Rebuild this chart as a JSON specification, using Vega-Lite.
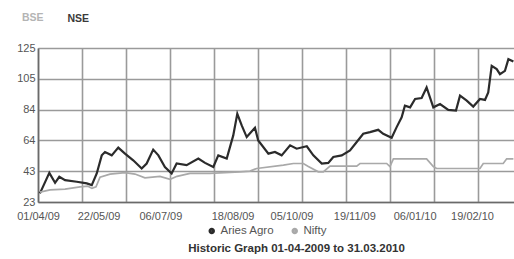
{
  "$schema": "https://vega.github.io/schema/vega-lite/v6.json",
  "width": 480,
  "height": 154,
  "autosize": {"type": "none"},
  "padding": {"left": 38, "top": 48, "right": 0, "bottom": 57},
  "background": "white",
  "config": {"view": {"stroke": null}, "font": "Liberation Sans"},
  "title": {
    "text": "BSE",
    "anchor": "start",
    "orient": "top",
    "frame": "group",
    "dx": -16,
    "offset": -19,
    "baseline": "bottom",
    "fontSize": 10.5,
    "fontWeight": "bold",
    "color": "#b4b4b4",
    "font": "Liberation Sans"
  },
  "datasets": {
    "series": [
      {"series": "Aries Agro", "t": 1.0, "v": 28.7},
      {"series": "Aries Agro", "t": 5.9, "v": 42.3},
      {"series": "Aries Agro", "t": 8.9, "v": 35.7},
      {"series": "Aries Agro", "t": 11.1, "v": 39.7},
      {"series": "Aries Agro", "t": 14.1, "v": 37.5},
      {"series": "Aries Agro", "t": 20.2, "v": 36.4},
      {"series": "Aries Agro", "t": 25.4, "v": 35.3},
      {"series": "Aries Agro", "t": 28.0, "v": 34.2},
      {"series": "Aries Agro", "t": 30.6, "v": 41.9},
      {"series": "Aries Agro", "t": 33.2, "v": 53.9},
      {"series": "Aries Agro", "t": 34.9, "v": 56.1},
      {"series": "Aries Agro", "t": 38.4, "v": 53.9},
      {"series": "Aries Agro", "t": 41.8, "v": 59.0},
      {"series": "Aries Agro", "t": 45.3, "v": 55.0},
      {"series": "Aries Agro", "t": 49.6, "v": 50.6},
      {"series": "Aries Agro", "t": 54.0, "v": 45.2},
      {"series": "Aries Agro", "t": 56.6, "v": 48.5},
      {"series": "Aries Agro", "t": 60.0, "v": 57.7},
      {"series": "Aries Agro", "t": 62.7, "v": 53.9},
      {"series": "Aries Agro", "t": 66.1, "v": 46.2},
      {"series": "Aries Agro", "t": 69.6, "v": 41.9},
      {"series": "Aries Agro", "t": 72.2, "v": 48.5},
      {"series": "Aries Agro", "t": 77.4, "v": 47.4},
      {"series": "Aries Agro", "t": 83.5, "v": 51.8},
      {"series": "Aries Agro", "t": 87.0, "v": 48.9},
      {"series": "Aries Agro", "t": 91.3, "v": 46.2},
      {"series": "Aries Agro", "t": 93.9, "v": 53.9},
      {"series": "Aries Agro", "t": 98.3, "v": 51.8},
      {"series": "Aries Agro", "t": 101.7, "v": 67.1},
      {"series": "Aries Agro", "t": 103.8, "v": 81.4},
      {"series": "Aries Agro", "t": 106.1, "v": 73.7},
      {"series": "Aries Agro", "t": 108.7, "v": 66.0},
      {"series": "Aries Agro", "t": 113.0, "v": 72.2},
      {"series": "Aries Agro", "t": 114.7, "v": 63.8},
      {"series": "Aries Agro", "t": 120.0, "v": 55.0},
      {"series": "Aries Agro", "t": 123.4, "v": 56.1},
      {"series": "Aries Agro", "t": 126.9, "v": 53.9},
      {"series": "Aries Agro", "t": 131.3, "v": 60.5},
      {"series": "Aries Agro", "t": 134.7, "v": 58.3},
      {"series": "Aries Agro", "t": 140.0, "v": 59.9},
      {"series": "Aries Agro", "t": 143.4, "v": 53.9},
      {"series": "Aries Agro", "t": 147.8, "v": 48.5},
      {"series": "Aries Agro", "t": 151.2, "v": 48.9},
      {"series": "Aries Agro", "t": 153.8, "v": 52.8},
      {"series": "Aries Agro", "t": 158.2, "v": 53.9},
      {"series": "Aries Agro", "t": 162.5, "v": 57.2},
      {"series": "Aries Agro", "t": 166.0, "v": 62.7},
      {"series": "Aries Agro", "t": 169.4, "v": 68.2},
      {"series": "Aries Agro", "t": 172.9, "v": 69.3},
      {"series": "Aries Agro", "t": 177.2, "v": 70.8},
      {"series": "Aries Agro", "t": 179.8, "v": 68.2},
      {"series": "Aries Agro", "t": 184.2, "v": 65.6},
      {"series": "Aries Agro", "t": 186.8, "v": 72.6},
      {"series": "Aries Agro", "t": 189.4, "v": 79.1},
      {"series": "Aries Agro", "t": 191.1, "v": 86.8},
      {"series": "Aries Agro", "t": 193.8, "v": 85.7},
      {"series": "Aries Agro", "t": 196.4, "v": 91.2},
      {"series": "Aries Agro", "t": 199.8, "v": 91.9},
      {"series": "Aries Agro", "t": 202.4, "v": 98.9},
      {"series": "Aries Agro", "t": 205.9, "v": 85.7},
      {"series": "Aries Agro", "t": 209.4, "v": 87.9},
      {"series": "Aries Agro", "t": 213.7, "v": 84.0},
      {"series": "Aries Agro", "t": 217.7, "v": 83.5},
      {"series": "Aries Agro", "t": 219.8, "v": 93.4},
      {"series": "Aries Agro", "t": 223.3, "v": 90.1},
      {"series": "Aries Agro", "t": 226.7, "v": 86.2},
      {"series": "Aries Agro", "t": 230.2, "v": 91.2},
      {"series": "Aries Agro", "t": 232.8, "v": 90.6},
      {"series": "Aries Agro", "t": 234.5, "v": 95.6},
      {"series": "Aries Agro", "t": 236.3, "v": 113.2},
      {"series": "Aries Agro", "t": 238.9, "v": 111.0},
      {"series": "Aries Agro", "t": 240.6, "v": 107.7},
      {"series": "Aries Agro", "t": 243.2, "v": 109.9},
      {"series": "Aries Agro", "t": 245.0, "v": 117.6},
      {"series": "Aries Agro", "t": 247.6, "v": 116.0},
      {"series": "Nifty", "t": 1.0, "v": 29.5},
      {"series": "Nifty", "t": 6.3, "v": 31.0},
      {"series": "Nifty", "t": 14.1, "v": 31.5},
      {"series": "Nifty", "t": 21.9, "v": 33.0},
      {"series": "Nifty", "t": 26.0, "v": 33.5},
      {"series": "Nifty", "t": 28.1, "v": 32.0},
      {"series": "Nifty", "t": 30.2, "v": 33.0},
      {"series": "Nifty", "t": 32.3, "v": 39.5},
      {"series": "Nifty", "t": 37.5, "v": 41.5},
      {"series": "Nifty", "t": 45.3, "v": 42.5},
      {"series": "Nifty", "t": 50.5, "v": 41.5},
      {"series": "Nifty", "t": 55.7, "v": 39.0},
      {"series": "Nifty", "t": 63.5, "v": 40.0},
      {"series": "Nifty", "t": 68.8, "v": 38.0},
      {"series": "Nifty", "t": 72.4, "v": 40.0},
      {"series": "Nifty", "t": 79.2, "v": 42.0},
      {"series": "Nifty", "t": 89.6, "v": 42.0},
      {"series": "Nifty", "t": 97.4, "v": 42.5},
      {"series": "Nifty", "t": 105.2, "v": 43.0},
      {"series": "Nifty", "t": 110.4, "v": 43.5},
      {"series": "Nifty", "t": 113.9, "v": 45.2},
      {"series": "Nifty", "t": 127.8, "v": 47.4},
      {"series": "Nifty", "t": 133.0, "v": 48.5},
      {"series": "Nifty", "t": 138.2, "v": 48.5},
      {"series": "Nifty", "t": 140.8, "v": 46.5},
      {"series": "Nifty", "t": 146.0, "v": 43.0},
      {"series": "Nifty", "t": 148.6, "v": 43.0},
      {"series": "Nifty", "t": 152.1, "v": 46.8},
      {"series": "Nifty", "t": 166.0, "v": 46.8},
      {"series": "Nifty", "t": 167.7, "v": 48.5},
      {"series": "Nifty", "t": 181.6, "v": 48.5},
      {"series": "Nifty", "t": 183.3, "v": 46.5},
      {"series": "Nifty", "t": 185.1, "v": 51.6},
      {"series": "Nifty", "t": 202.4, "v": 51.6},
      {"series": "Nifty", "t": 205.9, "v": 46.5},
      {"series": "Nifty", "t": 207.6, "v": 45.2},
      {"series": "Nifty", "t": 230.2, "v": 45.2},
      {"series": "Nifty", "t": 231.9, "v": 48.5},
      {"series": "Nifty", "t": 242.3, "v": 48.5},
      {"series": "Nifty", "t": 244.1, "v": 51.6},
      {"series": "Nifty", "t": 247.6, "v": 51.6}
    ],
    "dates": [
      {"t": 0.3, "date": "01/04/09"},
      {"t": 31.8, "date": "22/05/09"},
      {"t": 64.0, "date": "06/07/09"},
      {"t": 101.6, "date": "18/08/09"},
      {"t": 132.3, "date": "05/10/09"},
      {"t": 165.0, "date": "19/11/09"},
      {"t": 196.4, "date": "06/01/10"},
      {"t": 226.3, "date": "19/02/10"}
    ],
    "tabs": [
      {"tab": "NSE"}
    ]
  },
  "layer": [
    {
      "data": {"name": "series"},
      "mark": {"type": "line", "interpolate": "linear"},
      "encoding": {
        "x": {
          "field": "t",
          "type": "quantitative",
          "scale": {"domain": [0, 250], "nice": false, "zero": false},
          "axis": {
            "values": [0, 22.9, 45.8, 68.7, 91.6, 114.5, 137.4, 160.3, 183.2, 206.1, 229],
            "tickCount": 20,
            "labels": false,
            "ticks": false,
            "grid": true,
            "gridColor": "#9a9a9a",
            "gridWidth": 1.6,
            "gridOpacity": 1,
            "domainColor": "#6a6a6a",
            "domainWidth": 1.6,
            "title": "Historic Graph 01-04-2009 to 31.03.2010",
            "titleFont": "Liberation Sans",
            "titleFontSize": 11.5,
            "titleFontWeight": "bold",
            "titleColor": "#333333",
            "titleX": 258,
            "titleY": 46,
            "titleAlign": "center",
            "titleBaseline": "middle"
          }
        },
        "y": {
          "field": "v",
          "type": "quantitative",
          "scale": {"domain": [23, 125], "nice": false, "zero": false},
          "axis": {
            "values": [23, 43.4, 63.8, 84.2, 104.6, 125],
            "tickCount": 10,
            "format": ".0f",
            "ticks": false,
            "grid": true,
            "gridColor": "#9a9a9a",
            "gridWidth": 1.6,
            "gridOpacity": 1,
            "domainColor": "#6a6a6a",
            "domainWidth": 1.6,
            "labelFontSize": 11,
            "labelColor": "#555555",
            "labelPadding": 3,
            "labelOverlap": false,
            "labelFlush": false,
            "title": null
          }
        },
        "color": {
          "field": "series",
          "type": "nominal",
          "scale": {"domain": ["Aries Agro", "Nifty"], "range": ["#2b2b2b", "#a9a9a9"]},
          "legend": {
            "orient": "none",
            "legendX": 168,
            "legendY": 177,
            "direction": "horizontal",
            "title": null,
            "symbolType": "circle",
            "symbolSize": 12,
            "symbolStrokeWidth": 3,
            "labelFontSize": 11.5,
            "labelColor": "#555555",
            "labelOffset": 3,
            "columnPadding": 12
          }
        },
        "strokeWidth": {
          "condition": {"test": "datum.series === 'Nifty'", "value": 1.7},
          "value": 2.2
        }
      }
    },
    {
      "data": {"name": "dates"},
      "mark": {"type": "text", "fontSize": 11, "color": "#555555", "baseline": "middle", "align": "center", "dy": 15},
      "encoding": {
        "x": {"field": "t", "type": "quantitative"},
        "y": {"datum": 23, "type": "quantitative"},
        "text": {"field": "date", "type": "nominal"}
      }
    },
    {
      "data": {"name": "tabs"},
      "mark": {"type": "point", "opacity": 0},
      "encoding": {
        "shape": {
          "field": "tab",
          "type": "nominal",
          "legend": {
            "orient": "none",
            "legendX": 19,
            "legendY": -34,
            "direction": "horizontal",
            "title": null,
            "symbolSize": 0,
            "symbolOpacity": 0,
            "symbolStrokeWidth": 0,
            "labelOffset": 0,
            "labelFontSize": 10.5,
            "labelFontWeight": "bold",
            "labelColor": "#3a3a3a"
          }
        }
      }
    }
  ]
}
